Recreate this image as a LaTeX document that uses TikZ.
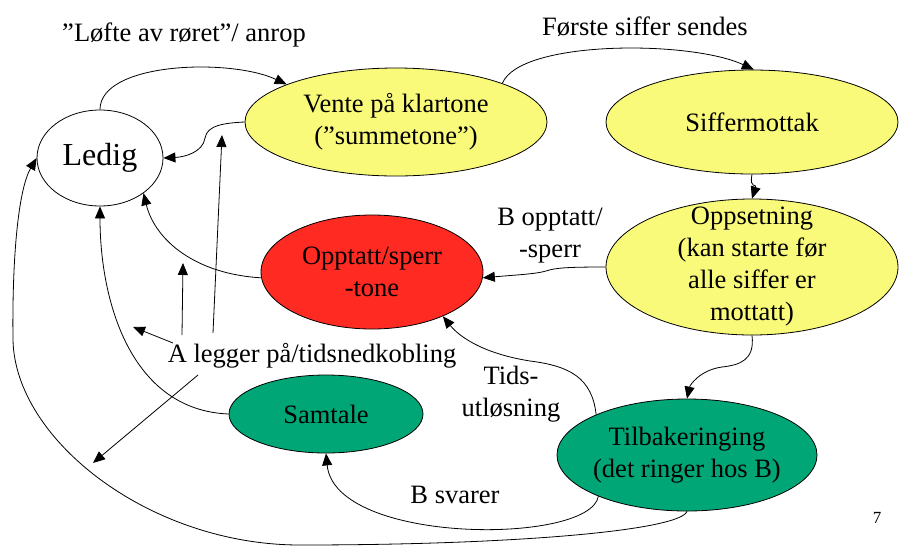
\documentclass[tikz,border=0pt]{standalone}
\usepackage{fontspec}
\setmainfont{Liberation Serif}
\usetikzlibrary{shapes.geometric,arrows.meta}
\definecolor{stYellow}{RGB}{250,250,122}
\definecolor{stRed}{RGB}{255,42,34}
\definecolor{stGreen}{RGB}{0,166,118}
\begin{document}
\begin{tikzpicture}[x=1pt,y=-1pt,
  state/.style={ellipse,draw=black,line width=0.8pt,inner sep=0pt},
  txt/.style={font=\fontsize{26.5}{32}\selectfont,align=center,inner sep=0pt},
  conn/.style={line width=0.8pt,-{Triangle[length=12pt,width=10pt]}},
]
\useasboundingbox (0,0) rectangle (900,547);

% states
\node[state,fill=white,minimum width=126pt,minimum height=96pt,
  label={[txt,font=\fontsize{32}{38}\selectfont]center:Ledig}] (ledig) at (100,158) {};
\node[state,fill=stYellow,minimum width=302pt,minimum height=108pt,
  label={[txt]center:Vente på klartone\\(”summetone”)}] (vente) at (396,122) {};
\node[state,fill=stYellow,minimum width=292pt,minimum height=104pt,
  label={[txt]center:Siffermottak}] (siffer) at (752,122) {};
\node[state,fill=stYellow,minimum width=292pt,minimum height=136pt,
  label={[txt]center:Oppsetning\\(kan starte før\\alle siffer er\\mottatt)}] (oppsett) at (752,267) {};
\node[state,fill=stRed,minimum width=222pt,minimum height=114pt,
  label={[txt]center:Opptatt/sperr\\-tone}] (opptatt) at (372,272) {};
\node[state,fill=stGreen,minimum width=194pt,minimum height=78pt,
  label={[txt]center:Samtale}] (samtale) at (326,414) {};
\node[state,fill=stGreen,minimum width=260pt,minimum height=112pt,
  label={[txt]center:Tilbakeringing\\(det ringer hos B)}] (tilb) at (687,455) {};

% labels
\node[txt] (lLofte) at (184,35) {”Løfte av røret”/ anrop};
\node[txt] (lForste) at (645,27) {Første siffer sendes};
\node[txt] (lBopp) at (550,236) {B opptatt/\\-sperr};
\node[txt] (lTids) at (511,394) {Tids-\\utløsning};
\node[txt] (lBsvar) at (455,495) {B svarer};
\node[txt] (lAlegg) at (312,356) {A legger på/tidsnedkobling};
\node[font=\fontsize{17}{20}\selectfont,inner sep=0pt] (pageno) at (877,518) {7};

% connectors between states
\draw[conn] (ledig.90) .. controls (100,62) and (230,58) .. (vente.161);
\draw[conn] (vente.west) .. controls (225,123) and (207,125) .. (205,138)
  .. controls (203,152) and (185,157) .. (ledig.east);
\draw[conn] (vente.20) .. controls (520,40) and (690,40) .. (siffer.88);
\draw[conn] (siffer.south) .. controls (749,190) and (757,183) .. (oppsett.north);
\draw[conn] (oppsett.west) .. controls (565,267) and (555,268) .. (546,271)
  .. controls (536,274) and (515,275) .. (opptatt.-3);
\draw[conn] (opptatt.183) .. controls (195,274) and (155,240) .. (ledig.-39);
\draw[conn] (oppsett.south) .. controls (755,360) and (740,365) .. (722,367)
  .. controls (700,370) and (690,385) .. (tilb.north);
\draw[conn] (tilb.156) .. controls (592,378) and (570,366) .. (530,361)
  .. controls (480,353) and (458,335) .. (opptatt.-32);
\draw[conn] (tilb.205) .. controls (590,545) and (335,545) .. (samtale.south);
\draw[conn] (tilb.south) .. controls (680,530) and (520,545) .. (300,545)
  .. controls (150,545) and (15,440) .. (13,340)
  .. controls (12,260) and (18,190) .. (ledig.west);
\draw[conn] (samtale.west) .. controls (130,410) and (100,300) .. (ledig.south);

% arrows from "A legger på/tidsnedkobling"
\coordinate (a1s) at (173,343); \coordinate (a1e) at (133,327);
\coordinate (a2s) at (182,335); \coordinate (a2e) at (183,263);
\coordinate (a3s) at (213,333); \coordinate (a3e) at (222,135);
\coordinate (a4s) at (198,375); \coordinate (a4e) at (93,463);
\draw[conn] (a1s) -- (a1e);
\draw[conn] (a2s) -- (a2e);
\draw[conn] (a3s) -- (a3e);
\draw[conn] (a4s) -- (a4e);
\end{tikzpicture}
\end{document}
